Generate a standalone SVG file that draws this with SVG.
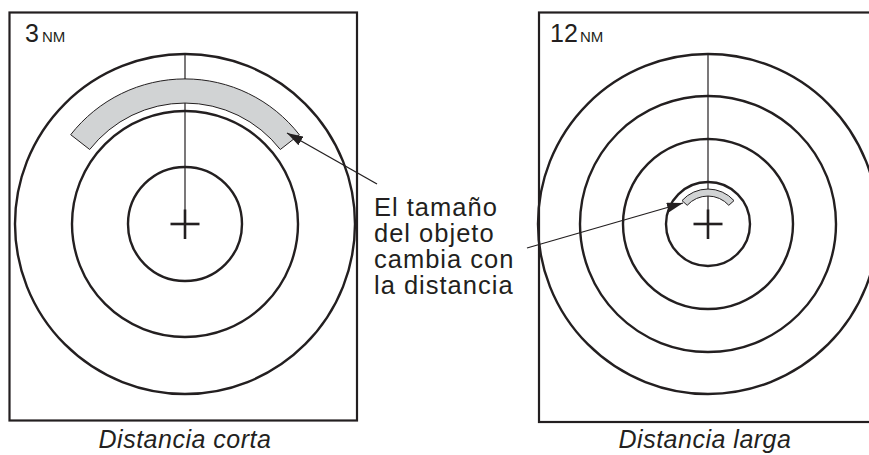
<svg xmlns="http://www.w3.org/2000/svg" width="869" height="455" viewBox="0 0 869 455">
<style>
.box{fill:none;stroke:#231f20;stroke-width:2.2}
.ring{fill:none;stroke:#231f20;stroke-width:2.4}
.hdg{stroke:#231f20;stroke-width:1.2}
.cross{stroke:#231f20;stroke-width:2.6}
.echo{fill:#d1d3d4;stroke:#231f20;stroke-width:1}
.lead{stroke:#231f20;stroke-width:1.3;fill:none}
text{font-family:"Liberation Sans",Arial,sans-serif;fill:#231f20}
.big{font-size:25px}
.unit{font-size:15px}
.note{font-size:25.5px;letter-spacing:1px}
.cap{font-size:25px;font-style:italic;text-anchor:middle;letter-spacing:0.5px}
</style>
<defs>
<marker id="ah" viewBox="0 0 16 10" refX="16" refY="5" markerWidth="16" markerHeight="10" markerUnits="userSpaceOnUse" orient="auto">
<path d="M0,0 L16,5 L0,10 Z" fill="#231f20"/>
</marker>
</defs>
<g id="panel-short">
<rect class="box" x="9.5" y="12.5" width="347.5" height="408"/>
<circle class="ring" cx="185" cy="224" r="170"/>
<circle class="ring" cx="185" cy="224" r="113"/>
<circle class="ring" cx="185" cy="224" r="57"/>
<line class="hdg" x1="185" y1="54" x2="185" y2="210"/>
<line class="cross" x1="185" y1="209.5" x2="185" y2="239"/>
<line class="cross" x1="170.5" y1="224" x2="199.5" y2="224"/>
<path class="echo" d="M70.7,134.7 A145,145 0 0 1 299.3,134.7 L280.3,149.5 A121,121 0 0 0 89.7,149.5 Z"/>
<text x="25" y="42" class="big">3</text>
<text x="42" y="42" class="unit">NM</text>
</g>
<g id="panel-long">
<rect class="box" x="539" y="12.5" width="345" height="409.5"/>
<circle class="ring" cx="708" cy="224" r="170"/>
<circle class="ring" cx="708" cy="224" r="128"/>
<circle class="ring" cx="708" cy="224" r="85"/>
<circle class="ring" cx="708" cy="224" r="42"/>
<line class="hdg" x1="708" y1="54" x2="708" y2="210"/>
<line class="cross" x1="708" y1="209.5" x2="708" y2="239"/>
<line class="cross" x1="693.5" y1="224" x2="722.5" y2="224"/>
<path class="echo" d="M682,200.6 A35,35 0 0 1 734,200.6 L728.8,205.3 A28,28 0 0 0 687.2,205.3 Z"/>
<text x="550" y="42" class="big">12</text>
<text x="580" y="42" class="unit">NM</text>
</g>
<g id="label">
<text class="note" x="374" y="216">El tamaño</text>
<text class="note" x="374" y="242">del objeto</text>
<text class="note" x="374" y="268">cambia con</text>
<text class="note" x="374" y="294">la distancia</text>
</g>
<g id="captions">
<text class="cap" x="185" y="448">Distancia corta</text>
<text class="cap" x="705" y="448">Distancia larga</text>
</g>
<g id="connectors">
<line class="lead" x1="377" y1="184" x2="287" y2="133" marker-end="url(#ah)"/>
<line class="lead" x1="527" y1="248" x2="683" y2="203" marker-end="url(#ah)"/>
</g>
</svg>
